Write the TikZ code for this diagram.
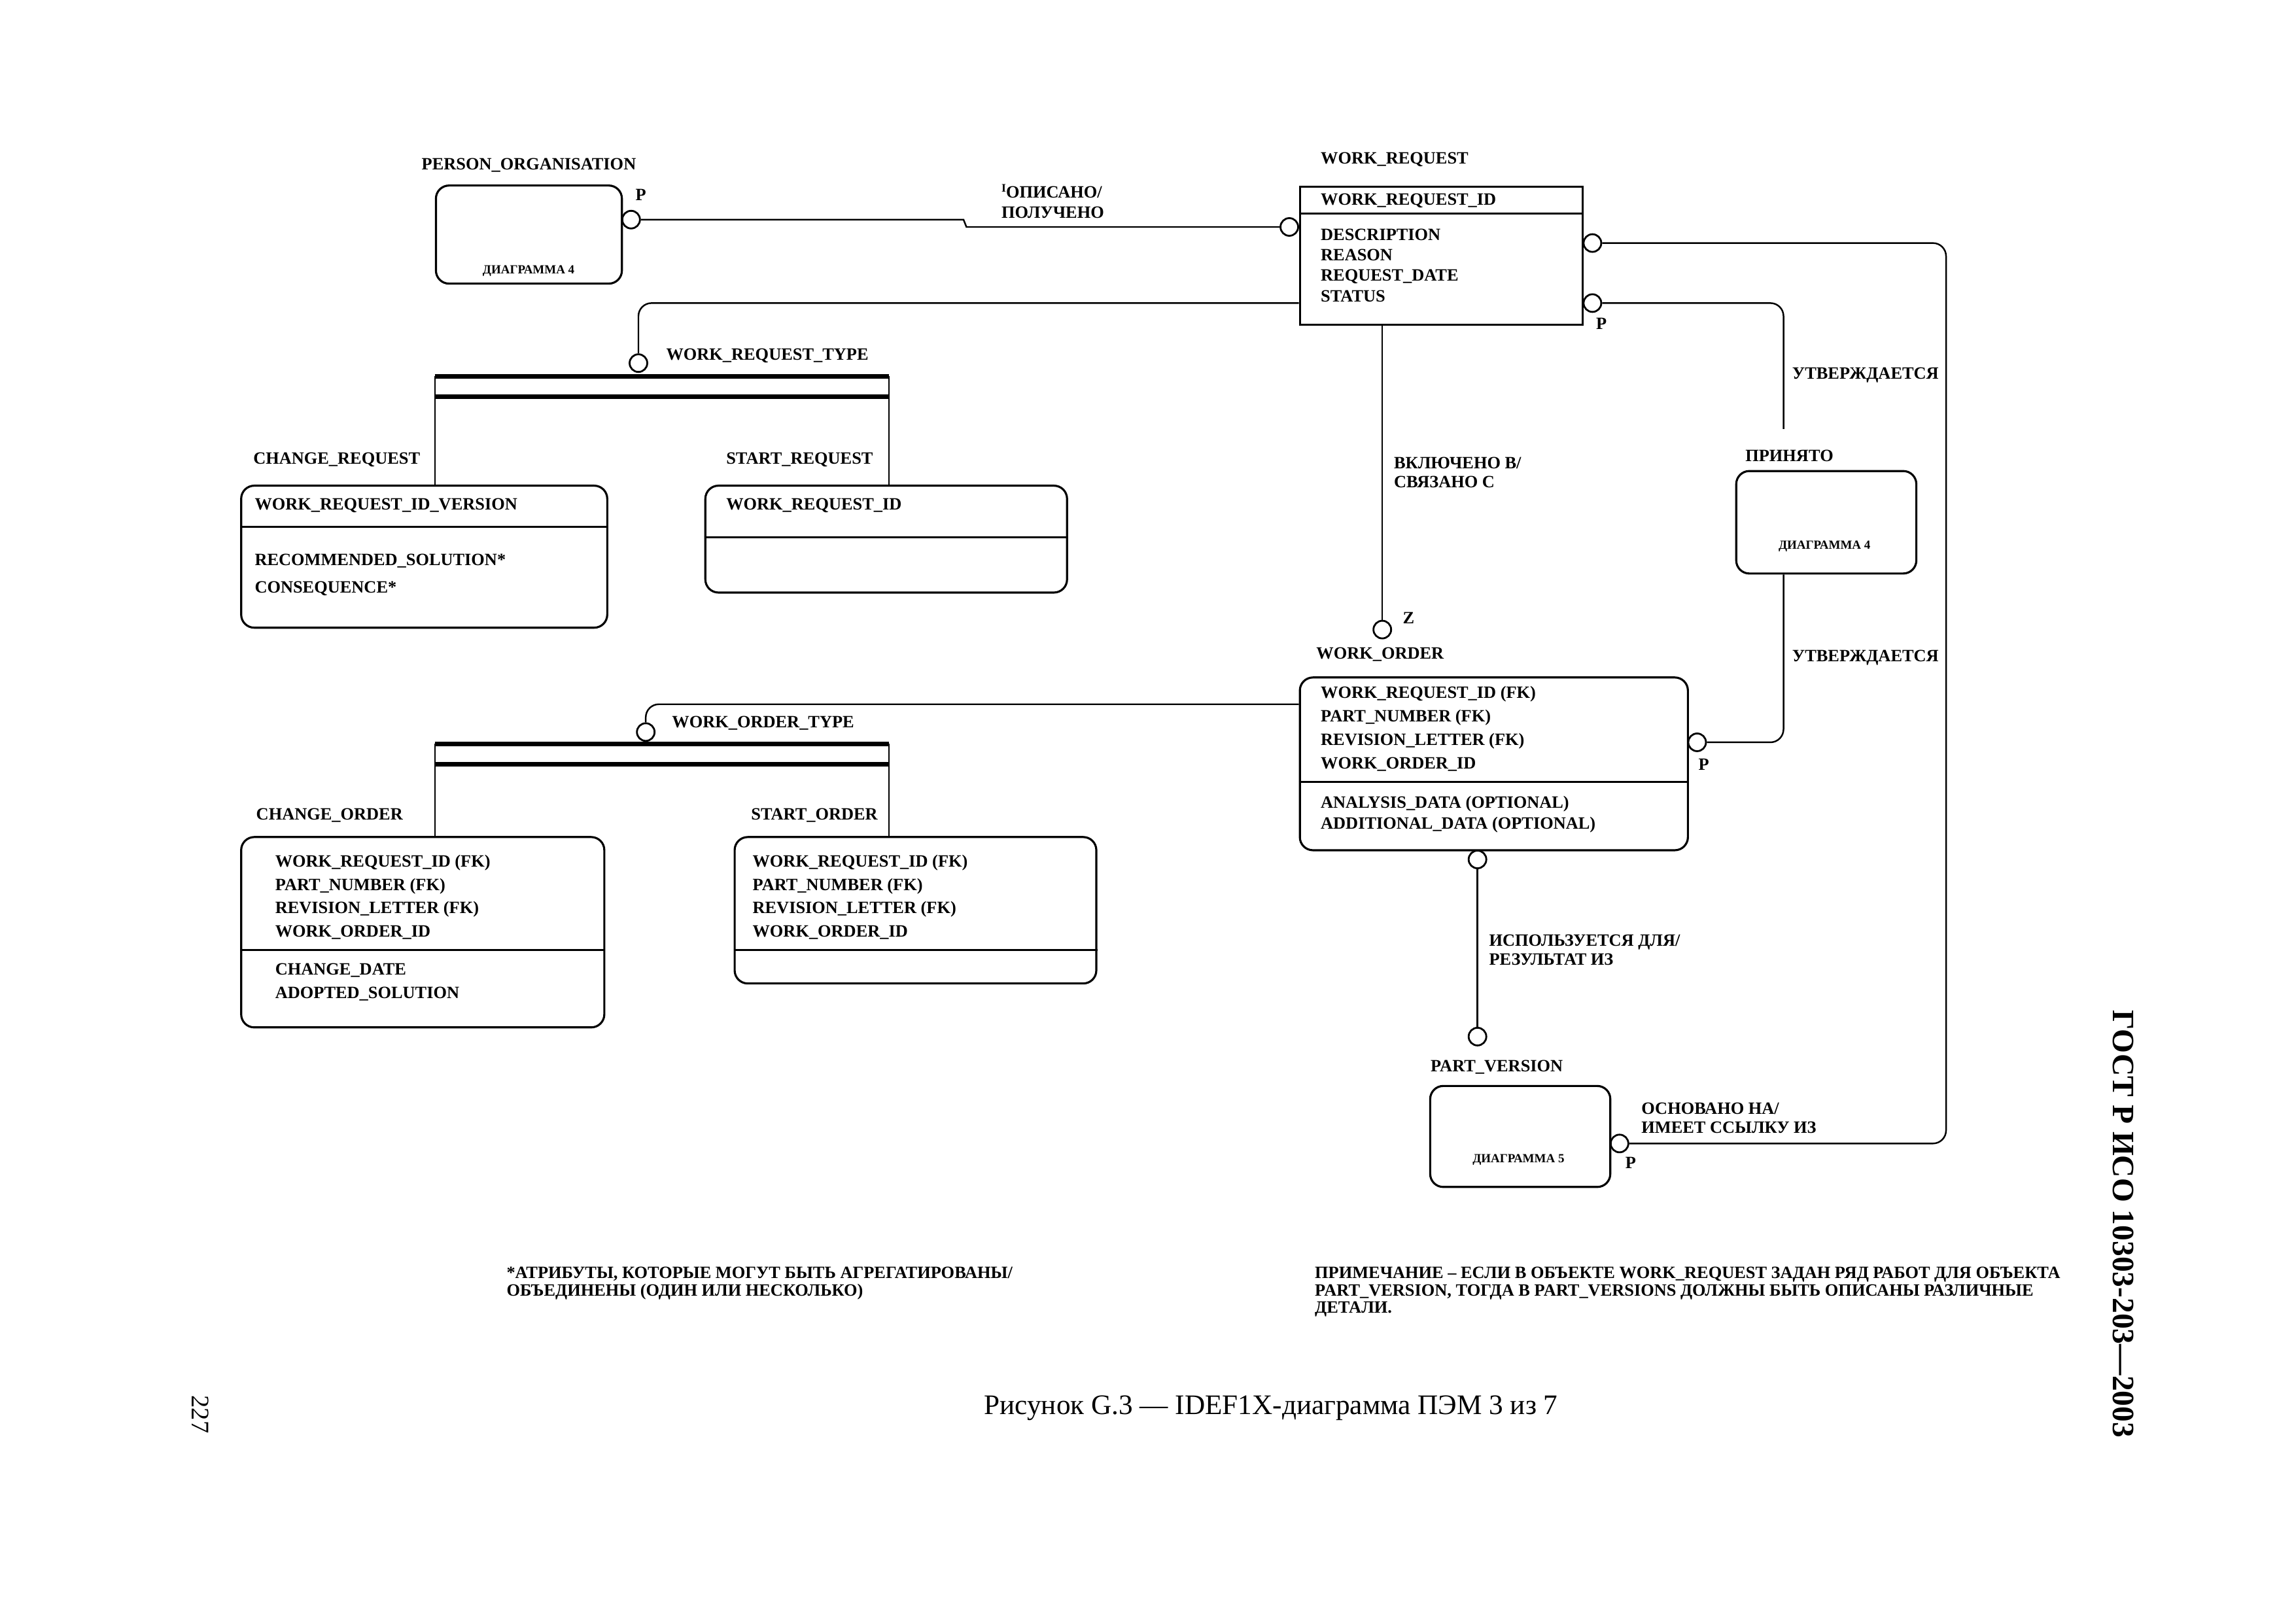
\documentclass[tikz,border=0pt]{standalone}
\usepackage{fontspec}
\setmainfont{Liberation Serif}
\newcommand\ebox[6]{\node[#6, minimum width={(#4-#2)*0.022385cm}, minimum height={(#5-#3)*0.022385cm}] (#1) at (#2,#3) {};}
\newcommand\tx[4]{\node[lbl] (#1) at (#2,#3) {#4};}
\tikzset{
 lbl/.style={anchor=base west, inner sep=0pt, outer sep=0pt, font=\fontsize{7.5}{9}\selectfont\bfseries},
 smalltx/.style={anchor=base, inner sep=0pt, font=\fontsize{5.4}{6.5}\selectfont\bfseries},
 ent/.style={draw, line width=0.9pt, anchor=north west, inner sep=0pt},
 rent/.style={ent, rounded corners=0.2cm},
 rc/.style={circle, draw, fill=white, line width=0.8pt, inner sep=0pt, minimum size=0.27cm},
 conn/.style={line width=0.7pt, rounded corners=0.2cm},
 bar/.style={line width=2pt},
 divl/.style={line width=0.8pt},
}
\begin{document}
\begin{tikzpicture}[x=0.022385cm, y=-0.022385cm]
\useasboundingbox (0,0) rectangle (1568,1109);
% entity boxes
\ebox{po}{297}{126}{424}{193}{rent}
\ebox{wr}{887}{127}{1080}{221}{ent}
\ebox{cr}{164}{331}{414}{428}{rent}
\ebox{sr}{481}{331}{728}{404}{rent}
\ebox{wo}{887}{462}{1152}{580}{rent}
\ebox{pr}{1185}{321}{1308}{391}{rent}
\ebox{co}{164}{571}{412}{701}{rent}
\ebox{so}{501}{571}{748}{671}{rent}
\ebox{pv}{976}{741}{1099}{810}{rent}
% dividers
\draw[divl] (wr.west |- 0,146) -- (wr.east |- 0,146);
\draw[divl] (cr.west |- 0,360) -- (cr.east |- 0,360);
\draw[divl] (sr.west |- 0,367) -- (sr.east |- 0,367);
\draw[divl] (wo.west |- 0,534) -- (wo.east |- 0,534);
\draw[divl] (co.west |- 0,649) -- (co.east |- 0,649);
\draw[divl] (so.west |- 0,649) -- (so.east |- 0,649);
% circles
\node[rc] (cPO) at (431,150) {};
\node[rc] (cWRl) at (880.5,155) {};
\node[rc] (cWRT) at (436,248) {};
\node[rc] (cWRr1) at (1087.5,166) {};
\node[rc] (cWRr2) at (1087.5,207) {};
\node[rc] (cWOz) at (944,430) {};
\node[rc] (cWOT) at (441,500) {};
\node[rc] (cWOr) at (1159,507) {};
\node[rc] (cWOb) at (1009,587) {};
\node[rc] (cPVt) at (1009,708) {};
\node[rc] (cPVr) at (1106,781) {};
% helper coordinates
\coordinate (j1) at (658,150);
\coordinate (j2) at (660,155);
\coordinate (b1l) at (297,257); \coordinate (b1r) at (607,257);
\coordinate (b2l) at (297,271); \coordinate (b2r) at (607,271);
\coordinate (b3l) at (297,508); \coordinate (b3r) at (607,508);
\coordinate (b4l) at (297,522); \coordinate (b4r) at (607,522);
\coordinate (rc1) at (1329,781);
\coordinate (u1) at (1218,293);
% connectors
\draw[conn, sharp corners] (cPO.east) -- (j1) -- (j2) -- (cWRl.west);
\draw[conn] (wr.west |- cWRr2) -| (cWRT.north);
\draw[bar] (b1l) -- (b1r);
\draw[bar] (b2l) -- (b2r);
\draw[conn] (b1l) -- (b1l |- cr.north);
\draw[conn] (b1r) -- (b1r |- sr.north);
\draw[conn] (cWOz.north |- wr.south) -- (cWOz.north);
\draw[conn] (wo.west |- 0,481) -| (cWOT.north);
\draw[bar] (b3l) -- (b3r);
\draw[bar] (b4l) -- (b4r);
\draw[conn] (b3l) -- (b3l |- co.north);
\draw[conn] (b3r) -- (b3r |- so.north);
\draw[conn] (cWRr1.east) -| (rc1) -- (cPVr.east);
\draw[conn] (cWRr2.east) -| (u1);
\draw[conn] (cWOr.east) -| (u1 |- pr.south);
\draw[conn] (cWOb.south) -- (cPVt.north);
% entity names
\tx{nPO}{288}{116}{PERSON\_ORGANISATION}
\tx{nWR}{902}{112}{WORK\_REQUEST}
\tx{nWRT}{455}{246}{WORK\_REQUEST\_TYPE}
\tx{nCR}{173}{317}{CHANGE\_REQUEST}
\tx{nSR}{496}{317}{START\_REQUEST}
\tx{nWO}{899}{450}{WORK\_ORDER}
\tx{nWOT}{459}{497}{WORK\_ORDER\_TYPE}
\tx{nCO}{175}{560}{CHANGE\_ORDER}
\tx{nSO}{513}{560}{START\_ORDER}
\tx{nPV}{977}{732}{PART\_VERSION}
\tx{nPR}{1192}{315}{ПРИНЯТО}
% cardinality marks
\tx{pPO}{434}{137}{P}
\tx{pWR}{1090}{225}{P}
\tx{pWO}{1160}{526}{P}
\tx{pPV}{1110}{798}{P}
\tx{zWO}{958}{426}{Z}
% relationship labels
\tx{r1a}{684}{135}{\raisebox{2.5pt}{\fontsize{5}{5}\selectfont I}ОПИСАНО/}
\tx{r1b}{684}{149}{ПОЛУЧЕНО}
\tx{r2a}{952}{320}{ВКЛЮЧЕНО В/}
\tx{r2b}{952}{333}{СВЯЗАНО С}
\tx{r3}{1224}{259}{УТВЕРЖДАЕТСЯ}
\tx{r4}{1224}{452}{УТВЕРЖДАЕТСЯ}
\tx{r5a}{1017}{646}{ИСПОЛЬЗУЕТСЯ ДЛЯ/}
\tx{r5b}{1017}{659}{РЕЗУЛЬТАТ ИЗ}
\tx{r6a}{1121}{761}{ОСНОВАНО НА/}
\tx{r6b}{1121}{774}{ИМЕЕТ ССЫЛКУ ИЗ}
% attributes WORK_REQUEST
\tx{aWR1}{902}{140}{WORK\_REQUEST\_ID}
\tx{aWR2}{902}{164}{DESCRIPTION}
\tx{aWR3}{902}{178}{REASON}
\tx{aWR4}{902}{192}{REQUEST\_DATE}
\tx{aWR5}{902}{206}{STATUS}
% CHANGE_REQUEST
\tx{aCR1}{174}{348}{WORK\_REQUEST\_ID\_VERSION}
\tx{aCR2}{174}{386}{RECOMMENDED\_SOLUTION*}
\tx{aCR3}{174}{405}{CONSEQUENCE*}
% START_REQUEST
\tx{aSR1}{496}{348}{WORK\_REQUEST\_ID}
% WORK_ORDER
\tx{aWO1}{902}{477}{WORK\_REQUEST\_ID (FK)}
\tx{aWO2}{902}{493}{PART\_NUMBER (FK)}
\tx{aWO3}{902}{509}{REVISION\_LETTER (FK)}
\tx{aWO4}{902}{525}{WORK\_ORDER\_ID}
\tx{aWO5}{902}{552}{ANALYSIS\_DATA (OPTIONAL)}
\tx{aWO6}{902}{566}{ADDITIONAL\_DATA (OPTIONAL)}
% CHANGE_ORDER
\tx{aCO1}{188}{592}{WORK\_REQUEST\_ID (FK)}
\tx{aCO2}{188}{608}{PART\_NUMBER (FK)}
\tx{aCO3}{188}{624}{REVISION\_LETTER (FK)}
\tx{aCO4}{188}{640}{WORK\_ORDER\_ID}
\tx{aCO5}{188}{666}{CHANGE\_DATE}
\tx{aCO6}{188}{682}{ADOPTED\_SOLUTION}
% START_ORDER
\tx{aSO1}{514}{592}{WORK\_REQUEST\_ID (FK)}
\tx{aSO2}{514}{608}{PART\_NUMBER (FK)}
\tx{aSO3}{514}{624}{REVISION\_LETTER (FK)}
\tx{aSO4}{514}{640}{WORK\_ORDER\_ID}
% diagram references
\node[smalltx] (dPO) at (361,187) {ДИАГРАММА 4};
\node[smalltx] (dPR) at (1246,375) {ДИАГРАММА 4};
\node[smalltx] (dPV) at (1037,794) {ДИАГРАММА 5};
% notes
\tx{n1a}{346}{873}{*АТРИБУТЫ, КОТОРЫЕ МОГУТ БЫТЬ АГРЕГАТИРОВАНЫ/}
\tx{n1b}{346}{885}{ОБЪЕДИНЕНЫ (ОДИН ИЛИ НЕСКОЛЬКО)}
\tx{n2a}{898}{873}{ПРИМЕЧАНИЕ – ЕСЛИ В ОБЪЕКТЕ WORK\_REQUEST ЗАДАН РЯД РАБОТ ДЛЯ ОБЪЕКТА}
\tx{n2b}{898}{885}{PART\_VERSION, ТОГДА В PART\_VERSIONS ДОЛЖНЫ БЫТЬ ОПИСАНЫ РАЗЛИЧНЫЕ}
\tx{n2c}{898}{897}{ДЕТАЛИ.}
% caption and page marks
\node[anchor=base, inner sep=0pt, font=\fontsize{12.3}{14}\selectfont] (cap) at (868,966) {Рисунок G.3 — IDEF1X-диаграмма ПЭМ 3 из 7};
\node[rotate=-90, inner sep=0pt, font=\fontsize{13.5}{16}\selectfont\bfseries] (gost) at (1450,836) {ГОСТ Р ИСО 10303-203—2003};
\node[rotate=-90, inner sep=0pt, font=\fontsize{11}{13}\selectfont] (pg) at (137,966) {227};
\end{tikzpicture}
\end{document}
